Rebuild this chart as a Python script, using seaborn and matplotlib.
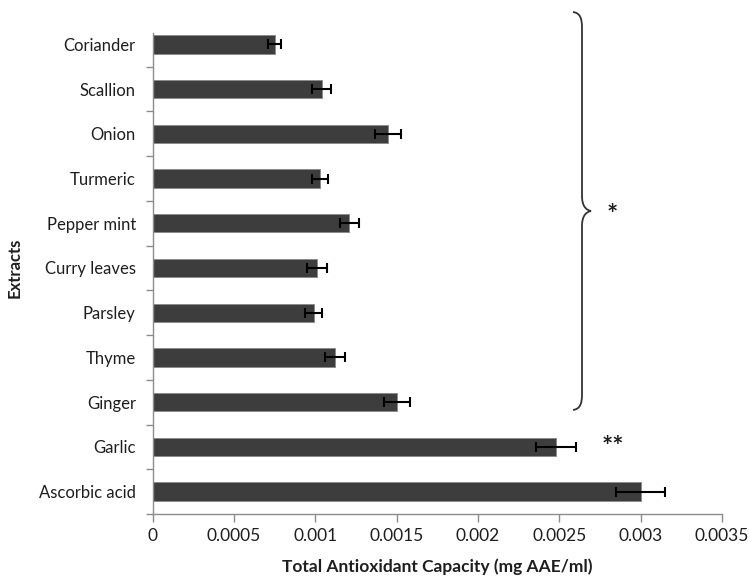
import numpy as np
import pandas as pd
import matplotlib
matplotlib.use("Agg")
import matplotlib.pyplot as plt
from matplotlib.path import Path
from matplotlib.patches import PathPatch
from matplotlib.ticker import FixedLocator
import seaborn as sns

# dados (mg AAE/ml)
extracts = ["Coriander", "Scallion", "Onion", "Turmeric", "Pepper mint",
            "Curry leaves", "Parsley", "Thyme", "Ginger", "Garlic", "Ascorbic acid"]
capacity = [0.00075, 0.00104, 0.00145, 0.00103, 0.00121,
            0.00101, 0.00099, 0.00112, 0.00150, 0.00248, 0.00300]
std_err = [0.00004, 0.00006, 0.00008, 0.00005, 0.00006,
           0.00006, 0.00005, 0.00006, 0.00008, 0.000125, 0.00015]
x_ticks = [0, 0.0005, 0.001, 0.0015, 0.002, 0.0025, 0.003, 0.0035]
x_tick_labels = ["0", "0.0005", "0.001", "0.0015", "0.002", "0.0025", "0.003", "0.0035"]

df = pd.DataFrame({"Extract": extracts, "Capacity": capacity, "Err": std_err})

sns.set_style("white")
plt.rcParams["font.family"] = ["Lato", "DejaVu Sans"]

W, H = 749, 578
fig = plt.figure(figsize=(W / 100, H / 100), dpi=100)
ax = fig.add_axes([152.5 / W, 1 - 514 / H, (722 - 152.5) / W, (514 - 22) / H])

sns.barplot(data=df, x="Capacity", y="Extract", order=extracts, color="#3d3d3d",
            saturation=1, width=0.41, edgecolor="#8c8c8c", linewidth=0.7,
            errorbar=None, ax=ax)
ax.errorbar(df["Capacity"], np.arange(len(df)), xerr=df["Err"], fmt="none",
            ecolor="black", elinewidth=1.5, capsize=3.3, capthick=1.5, zorder=3)

ax.set_xlim(0, 0.0035)
ax.set_ylim(len(extracts) - 0.5, -0.5)
ax.set_xticks(x_ticks)
ax.set_xticklabels(x_tick_labels)

# ticks entre as categorias (estilo Excel)
ax.yaxis.set_minor_locator(FixedLocator(np.arange(0.5, len(extracts), 1.0)))
ax.tick_params(axis="y", which="major", length=0, pad=12, labelsize=12, labelcolor="#1e1e1e")
ax.tick_params(axis="y", which="minor", left=True, length=5, width=1, color="#8c8c8c", direction="out")
ax.tick_params(axis="x", which="major", bottom=True, length=6, width=1, color="#8c8c8c",
               direction="out", pad=4, labelsize=12.5, labelcolor="#1e1e1e")

for s in ["top", "right"]:
    ax.spines[s].set_visible(False)
for s in ["left", "bottom"]:
    ax.spines[s].set_color("#8c8c8c")
    ax.spines[s].set_linewidth(1)
ax.spines["left"].set_bounds(len(extracts) - 0.5, -0.245)

ax.set_xlabel("")
ax.set_ylabel("")
fig.text(437 / W, 1 - 567 / H, "Total Antioxidant Capacity (mg AAE/ml)", ha="center",
         va="center", fontsize=12.5, fontweight="bold", color="#1e1e1e")
fig.text(15 / W, 1 - 268 / H, "Extracts", ha="center", va="center", rotation=90,
         fontsize=12, fontweight="bold", color="#1e1e1e")

# chave de significância
def px(x, y):
    return (x / W, 1 - y / H)

verts = [px(573, 12), px(580, 13), px(582, 18), px(582, 28),
         px(582, 196),
         px(582, 206), px(586, 210), px(591, 211),
         px(586, 212), px(582, 216), px(582, 226),
         px(582, 394),
         px(582, 404), px(580, 409), px(573, 410)]
codes = [Path.MOVETO, Path.CURVE4, Path.CURVE4, Path.CURVE4,
         Path.LINETO,
         Path.CURVE4, Path.CURVE4, Path.CURVE4,
         Path.CURVE4, Path.CURVE4, Path.CURVE4,
         Path.LINETO,
         Path.CURVE4, Path.CURVE4, Path.CURVE4]
brace = PathPatch(Path(verts, codes), transform=fig.transFigure, fill=False,
                  edgecolor="#333333", linewidth=1.3)
fig.patches.append(brace)
fig.text(612 / W, 1 - 215 / H, "*", ha="center", va="center", fontsize=19,
         fontweight="bold", color="#1e1e1e")
fig.text(613 / W, 1 - 447 / H, "**", ha="center", va="center", fontsize=19,
         fontweight="bold", color="#1e1e1e")

fig.savefig("out.png", dpi=100)
